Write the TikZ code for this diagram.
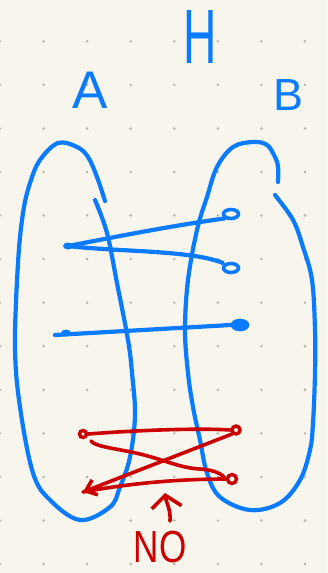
\documentclass[tikz,border=0pt]{standalone}
\usepackage{fontspec}
\setmainfont{Liberation Sans}
\usetikzlibrary{arrows.meta,shapes.geometric}
\definecolor{paper}{RGB}{248,246,236}
\definecolor{ink}{RGB}{10,122,255}
\definecolor{redink}{RGB}{204,0,0}
\definecolor{griddot}{RGB}{172,172,165}
\begin{document}
\begin{tikzpicture}[x=1pt,y=-1pt,
  bstroke/.style={draw=ink,line width=4.2pt,line cap=round,line join=round},
  rstroke/.style={draw=redink,line width=3.6pt,line cap=round,line join=round},
  bdot/.style={ellipse,fill=ink,inner sep=0,minimum width=10pt,minimum height=7pt},
  bring/.style={ellipse,draw=ink,line width=3.6pt,inner sep=0,minimum width=15pt,minimum height=9pt},
  rring/.style={circle,draw=redink,line width=3.4pt,inner sep=0,minimum size=7pt},
  bletter/.style={text=ink,inner sep=0},
  rletter/.style={text=redink,inner sep=0},
  barbtip/.style={-{Straight Barb[length=10pt,width=16pt]}}
]
\fill[paper] (0,0) rectangle (327,573);
\useasboundingbox (0,0) rectangle (327,573);
\foreach \i in {0,...,7} \foreach \j in {0,...,12}
  \fill[griddot] ({\i*43.57},{41.3+\j*43.56}) circle (1.3pt);

% labels
\node[bletter,font=\fontsize{77}{77}\selectfont] (hlbl) at (200,37) {\scalebox{0.6}[1]{H}};
\node[bletter,font=\fontsize{53}{53}\selectfont] (albl) at (90,90) {A};
\node[bletter,font=\fontsize{45}{45}\selectfont] (blbl) at (289,95) {B};
\node[rletter,font=\fontsize{45}{45}\selectfont] (nolbl) at (160,547) {\scalebox{0.78}[1]{NO}};

% set A
\draw[bstroke] plot[smooth,tension=0.6] coordinates {(105,201) (97,177) (88,157) (77,147) (58,143) (40,160) (30,183) (23,213) (18,263) (15,347) (20,407) (33,473) (50,500) (80,520) (110,507) (120,487) (130,457) (135,415) (132,373) (128,340) (117,283) (107,233) (95,200)};
% set B
\draw[bstroke] plot[smooth,tension=0.6] coordinates {(278,182) (278,167) (275,157) (267,145) (253,142) (233,147) (217,167) (207,197) (197,230) (188,280) (185,330) (188,373) (193,407) (200,440) (207,473) (220,497) (250,510) (280,503) (300,480) (310,450) (313,423) (315,373) (315,330) (312,280) (303,247) (293,220) (275,195)};

% blue elements
\node[bdot] (a1) at (68,246) {};
\node[bdot] (a2) at (66,333) {};
\coordinate (a2s) at (55,335);
\node[bring] (b1) at (231,214) {};
\node[bring] (b2) at (231,268) {};
\node[bring,fill=ink] (b3) at (240,325) {};

\draw[bstroke] (a1.center) .. controls (120,236) and (170,226) .. (b1.south west);
\draw[bstroke,shorten >=2pt] (a1.center) .. controls (120,252) and (190,250) .. (b2.north west);
\draw[bstroke] (a2s) -- (b3.west);

% red elements
\node[rring] (r1) at (83,434) {};
\node[rring,minimum size=8pt] (rt) at (236,430) {};
\node[rring,minimum size=9pt] (rb) at (232,479) {};
\coordinate (r2s) at (91,441);
\coordinate (ra) at (83,492);
\coordinate (nostart) at (170,521);
\coordinate (notip) at (165,493);

\draw[rstroke] (r1.east) .. controls (140,430) and (200,428) .. (rt.west);
\draw[rstroke] (r2s) .. controls (95,447) and (120,449) .. (140,454)
  .. controls (165,460) and (180,468) .. (200,469)
  .. controls (215,470) and (222,474) .. (rb.west);
\draw[rstroke,barbtip] (rt.south west) -- (ra);
\draw[rstroke] (rb.west) .. controls (170,479) and (120,485) .. (ra);
\draw[rstroke,-{Straight Barb[length=12pt,width=30pt]}] (nostart) .. controls (171,510) and (166,502) .. (notip);
\end{tikzpicture}
\end{document}
